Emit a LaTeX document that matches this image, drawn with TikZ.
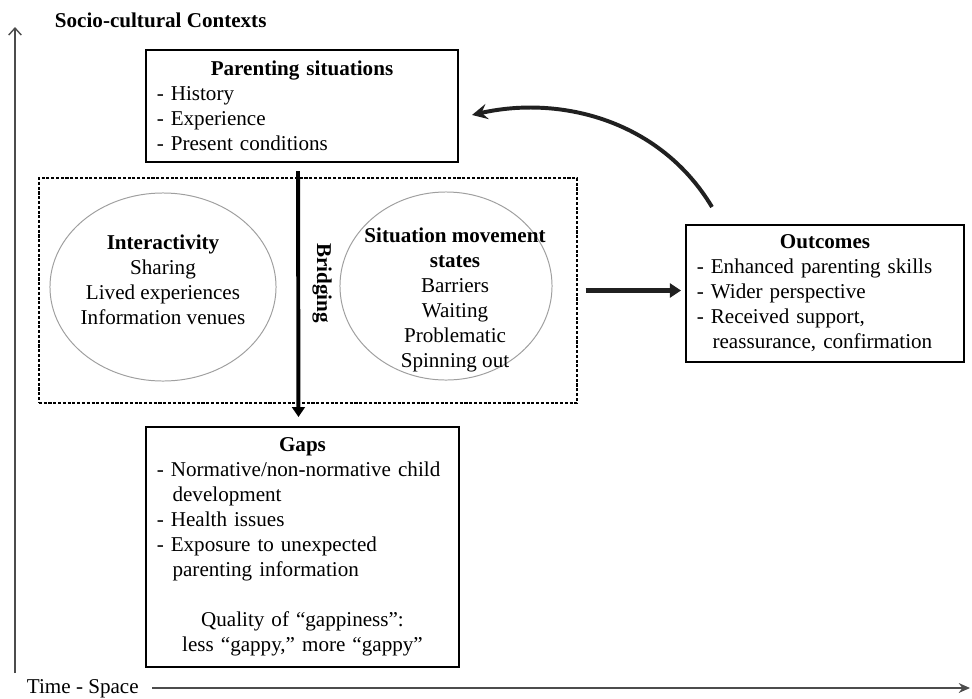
\documentclass[tikz,border=0pt]{standalone}
\usepackage{fontspec}
\setmainfont{Liberation Serif}
\usetikzlibrary{arrows.meta,shapes.geometric}
\newcommand\dashitem[1]{\par\hangindent=0.75em\hangafter=1 -\ #1}

\begin{document}
\begin{tikzpicture}[x=0.025cm, y=-0.025cm,
		every node/.style={font=\fontsize{15}{17.8}\selectfont},
		box/.style={draw=black, line width=1.4pt, inner xsep=0.27cm, inner ysep=0pt},
		bubble/.style={ellipse, draw=gray!75, line width=0.7pt, inner sep=0pt},
		axis/.style={draw=gray!60!black, line width=1pt},
		bridge/.style={draw=black, line width=2.8pt, -{Triangle[length=7pt, width=9pt]}},
		flow/.style={draw=gray!25!black, line width=3.4pt, -{Triangle[length=8pt, width=10pt]}},
		loop/.style={draw=gray!25!black, line width=2.8pt, -{Stealth[length=11pt, width=11pt, inset=4pt]}}]
		\useasboundingbox (0,0) rectangle (972,698);

		% axes
		\coordinate (origin) at (15,673);
		\coordinate (ytop) at (15,27);
		\coordinate (xstart) at (152,688);
		\coordinate (xend) at (970,688);
		\draw[axis, -{Straight Barb[length=5pt, width=9pt]}] (origin) -- (ytop);
		\draw[axis, -{Stealth[length=8pt, width=7pt]}] (xstart) -- (xend);
		\node[anchor=base west] (context) at (50,27) {\textbf{Socio-cultural Contexts}};
		\node[anchor=base west] (timespace) at (22,693) {Time - Space};

		% parenting situations
		\node[box, text width=7.26cm, minimum height=2.8cm] (parent) at (302,106) {%
			{\centering\textbf{Parenting situations}\par}\raggedright
			\dashitem{History}
			\dashitem{Experience}
			\dashitem{Present conditions}\par};

		% dashed frame with the two ellipses
		\node[draw=black, line width=0.9pt, dash pattern=on 2.2pt off 1.2pt, inner sep=0pt,
			minimum width=13.45cm, minimum height=5.625cm] (frame) at (308,290.5) {};
		\node[bubble, minimum width=5.65cm, minimum height=4.7cm] (inter) at (163,287) {};
		\node[align=center] (intertext) at (163,280) {\textbf{Interactivity}\\Sharing\\Lived experiences\\Information venues};
		\node[bubble, minimum width=5.3cm, minimum height=4.7cm] (moves) at (446,286) {};
		\node[align=center] (movetext) at (455,300) {\textbf{Situation movement}\\\textbf{states}\\Barriers\\Waiting\\Problematic\\Spinning out};

		% gaps
		\node[box, text width=7.285cm, minimum height=6cm] (gaps) at (302.5,547) {%
			{\centering\textbf{Gaps}\par}\raggedright
			\dashitem{Normative/non-normative child\newline development}
			\dashitem{Health issues}
			\dashitem{Exposure to unexpected\newline parenting information}
			\par\vspace{17.8pt}
			{\centering Quality of “gappiness”:\\less “gappy,” more “gappy”\par}};

		% outcomes
		\node[box, text width=6.41cm, minimum height=3.425cm] (outcomes) at (825,293.5) {%
			{\centering\textbf{Outcomes}\par}\raggedright
			\dashitem{Enhanced parenting skills}
			\dashitem{Wider perspective}
			\dashitem{Received support,\newline reassurance, confirmation}\par};

		% bridging
		\draw[bridge, shorten <=5.7pt, shorten >=6.4pt] ([xshift=-0.1cm]parent.south) -- ([xshift=-0.1cm]gaps.north);
		\node[rotate=-90] (bridging) at (322,283) {\textbf{Bridging}};

		\draw[flow, shorten <=5.7pt, shorten >=2.8pt] (frame.east) -- (frame.east -| outcomes.west);

		% back to parenting situations
		\coordinate (loopstart) at (712,207);
		\coordinate (loopend) at (472,115);
		\draw[loop] (loopstart) .. controls (660,120) and (560,95) .. (loopend);
	\end{tikzpicture}
\end{document}
